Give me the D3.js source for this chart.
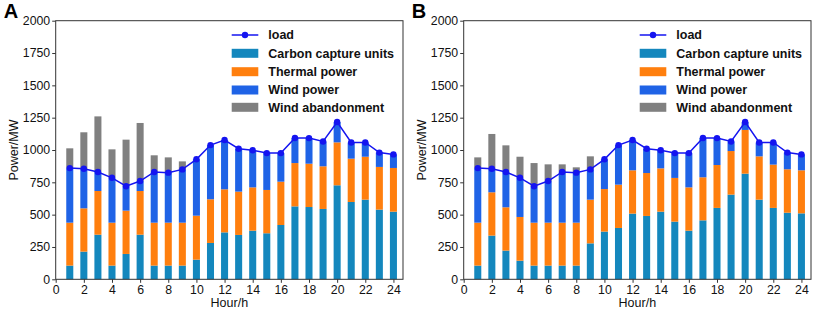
<!DOCTYPE html>
<html><head><meta charset="utf-8">
<script src="https://cdn.jsdelivr.net/npm/d3@7"></script>
<style>body{margin:0;background:#fff}svg{display:block}text{font-family:"Liberation Sans",Arial,sans-serif}</style>
</head><body>
<svg id="c" width="816" height="312"></svg>
<script>
const hours = d3.range(1, 25);
const xTicks = [0,2,4,6,8,10,12,14,16,18,20,22,24];
const yTicks = [0,250,500,750,1000,1250,1500,1750,2000];
const load = [860,855,830,785,720,760,830,825,850,928,1038,1077,1010,998,976,976,1093,1092,1066,1216,1058,1058,980,966];

const ccuA = [106,214,345,106,196,345,106,106,106,152,281,363,343,376,356,420,564,559,544,727,598,616,539,523];
const thermalA = [332,335,338,332,335,338,332,332,332,340,338,333,335,335,335,335,335,335,330,332,335,332,330,338];
const windA = [422,306,147,347,189,77,392,387,412,436,419,381,332,287,285,221,194,198,192,157,125,110,111,105];
const abandonA = [153,282,430,220,360,449,129,118,62,0,0,0,0,0,0,0,0,0,0,0,0,0,0,0];

const ccuB = [106,338,222,144,106,106,106,106,278,369,397,508,490,523,446,376,456,552,655,817,616,552,515,510];
const thermalB = [332,335,335,338,332,332,332,332,338,329,335,335,332,335,338,335,333,332,337,338,335,335,336,333];
const windB = [422,182,273,303,282,322,392,387,234,230,306,234,188,140,192,265,304,208,74,61,107,171,129,123];
const abandonB = [83,269,206,163,179,129,59,41,101,0,0,0,0,0,0,0,0,0,0,0,0,0,0,0];

const seriesNames = ["Carbon capture units","Thermal power","Wind power","Wind abandonment"];
const colors = ["#1487bd","#ff7f0e","#1f63e6","#808080"];
const loadColor = "#1414f0";

const svg = d3.select("#c");
const W = 347.3, H = 258.6;

function panel(ox, label, ccu, thermal, wind, abandon) {
  const g = svg.append("g").attr("transform", `translate(${ox},20.7)`);
  const x = d3.scaleLinear().domain([0, 24.68]).range([0, W]);
  const y = d3.scaleLinear().domain([0, 2000]).range([H, 0]);
  const rows = hours.map((h, i) => ({h, v:[ccu[i], thermal[i], wind[i], abandon[i]]}));
  const bw = x(0.5) - x(0);
  for (let s = 0; s < 4; s++) {
    g.append("g").selectAll("rect").data(rows).join("rect")
      .attr("x", d => x(d.h) - bw/2)
      .attr("width", bw)
      .attr("y", d => y(d3.sum(d.v.slice(0, s+1))))
      .attr("height", d => y(d3.sum(d.v.slice(0, s))) - y(d3.sum(d.v.slice(0, s+1))))
      .attr("fill", colors[s]);
  }
  const line = d3.line().x((d, i) => x(hours[i])).y(d => y(d));
  g.append("path").datum(load).attr("d", line).attr("fill","none").attr("stroke",loadColor).attr("stroke-width",1.5);
  g.append("g").selectAll("circle").data(load).join("circle")
    .attr("cx", (d, i) => x(hours[i])).attr("cy", d => y(d)).attr("r", 3.2).attr("fill", loadColor);

  const xa = g.append("g").attr("transform", `translate(0,${H})`)
    .call(d3.axisBottom(x).tickValues(xTicks).tickSize(3.5).tickPadding(2).tickFormat(d3.format("d")));
  const ya = g.append("g").call(d3.axisLeft(y).tickValues(yTicks).tickSize(3.5).tickPadding(2).tickFormat(d3.format("d")));
  [xa, ya].forEach(a => {
    a.select(".domain").remove();
    a.selectAll("line").attr("stroke", "#333");
    a.selectAll("text").attr("font-size", 12.3).attr("fill", "#111").attr("font-family", '"Liberation Sans",Arial,sans-serif');
  });
  g.append("rect").attr("x",0).attr("y",0).attr("width",W).attr("height",H)
    .attr("fill","none").attr("stroke","#333").attr("stroke-width",1);

  g.append("text").attr("x", W/2).attr("y", H + 28).attr("text-anchor","middle")
    .attr("font-size", 12.5).attr("fill","#111").text("Hour/h");
  g.append("text").attr("transform", `translate(-38,${H/2}) rotate(-90)`).attr("text-anchor","middle")
    .attr("font-size", 12.5).attr("fill","#111").text("Power/MW");
  g.append("text").attr("x", -52).attr("y", -3).attr("font-size", 20).attr("font-weight","bold")
    .attr("fill","#000").text(label);

  // legend
  const lg = g.append("g").attr("transform", `translate(${176},0)`);
  const ly = [14.3, 32.6, 51, 69.3, 86.6];
  lg.append("line").attr("x1",0).attr("x2",26.6).attr("y1",ly[0]).attr("y2",ly[0]).attr("stroke",loadColor).attr("stroke-width",1.5);
  lg.append("circle").attr("cx",13.3).attr("cy",ly[0]).attr("r",3.2).attr("fill",loadColor);
  lg.append("text").attr("x",36.6).attr("y",ly[0]+4.5).attr("font-size",12.5).attr("font-weight","bold").attr("fill","#111").text("load");
  seriesNames.forEach((n, i) => {
    lg.append("rect").attr("x",0).attr("y",ly[i+1]-4.5).attr("width",26.6).attr("height",9).attr("fill",colors[i]);
    lg.append("text").attr("x",36.6).attr("y",ly[i+1]+4.5).attr("font-size",12.5).attr("font-weight","bold").attr("fill","#111").text(n);
  });
}

panel(55.7, "A", ccuA, thermalA, windA, abandonA);
panel(463.7, "B", ccuB, thermalB, windB, abandonB);
</script>
</body></html>
